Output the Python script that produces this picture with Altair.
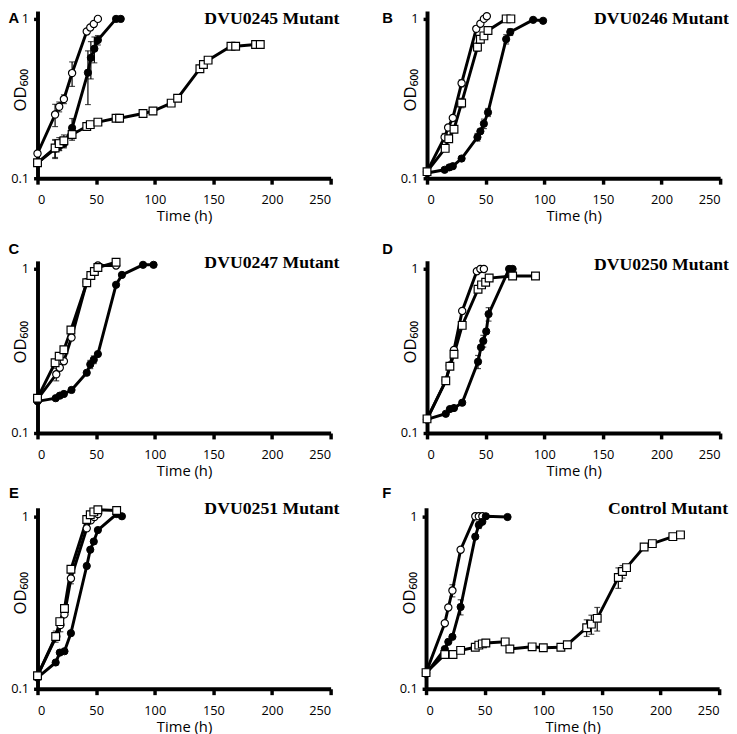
import altair as alt
import pandas as pd
import math

# ---------------- data ----------------
A_open_t = [0, 15, 18.5, 22.5, 29.5, 42, 45, 48, 51.5]
A_open_od = [0.143, 0.251, 0.281, 0.314, 0.457, 0.834, 0.884, 0.93, 1.0]
A_open_err = [0, 0.04, 0.02, 0.02, 0.08, 0.02, 0, 0, 0]
A_fill_t = [0, 15, 18.5, 22.5, 29.5, 43, 45.5, 48.5, 51.5, 67, 71]
A_fill_od = [0.125, 0.153, 0.159, 0.165, 0.207, 0.46, 0.57, 0.65, 0.736, 1.0, 1.0]
A_fill_err = [0, 0.02, 0.01, 0.01, 0.03, 0.17, 0.15, 0.12, 0.05, 0, 0]
A_sq_t = [0, 15, 18.5, 22.5, 29.5, 42, 45, 51.5, 67, 70, 90, 98.5, 114, 119.5,
          138.5, 141.5, 145.5, 165, 169, 186, 190]
A_sq_od = [0.125, 0.155, 0.165, 0.172, 0.188, 0.211, 0.217, 0.225, 0.238, 0.238,
           0.255, 0.264, 0.296, 0.318, 0.487, 0.518, 0.551, 0.673, 0.673, 0.69, 0.69]
A_sq_err = [0, 0.02, 0.015, 0.015, 0.015] + [0] * 16

B_open_t = [0, 15, 18, 22, 29.5, 42, 45.5, 48.5, 51]
B_open_od = [0.11, 0.181, 0.208, 0.239, 0.395, 0.866, 0.933, 1.0, 1.04]
B_open_err = [0, 0.01, 0, 0, 0.02, 0.03, 0, 0, 0]
B_fill_t = [0, 15, 19, 22, 29.5, 43, 45.5, 48.5, 52, 67.5, 71, 90.5, 99]
B_fill_od = [0.108, 0.113, 0.117, 0.119, 0.133, 0.181, 0.197, 0.22, 0.259, 0.746, 0.827, 0.986, 0.973]
B_fill_err = [0, 0, 0, 0, 0, 0.01, 0, 0.015, 0.015, 0.05, 0.04, 0, 0]
B_sq_t = [0, 15.5, 18.5, 23, 29.5, 43, 45.5, 48.5, 52, 67.5, 71.5]
B_sq_od = [0.11, 0.154, 0.177, 0.203, 0.297, 0.665, 0.746, 0.782, 0.846, 1.0, 1.0]
B_sq_err = [0, 0, 0, 0, 0.02, 0.04, 0.03, 0, 0, 0, 0]

C_open_t = [0, 16, 19, 22.5, 29, 42, 45.5, 48.5, 51.5, 67]
C_open_od = [0.161, 0.228, 0.25, 0.274, 0.382, 0.832, 0.912, 0.964, 1.05, 1.05]
C_open_err = [0, 0.02, 0, 0, 0, 0, 0, 0, 0, 0]
C_fill_t = [0, 15.5, 19, 22.5, 29, 42, 45, 48, 51.5, 67, 72, 90, 99]
C_fill_od = [0.156, 0.163, 0.169, 0.173, 0.183, 0.233, 0.262, 0.28, 0.303, 0.801, 0.92, 1.06, 1.06]
C_fill_err = [0, 0, 0, 0, 0, 0, 0.015, 0.015, 0, 0, 0, 0, 0]
C_sq_t = [0, 15, 18.5, 22.5, 28.5, 42, 45.5, 48.5, 51.5, 67]
C_sq_od = [0.163, 0.268, 0.294, 0.322, 0.425, 0.824, 0.912, 0.964, 1.02, 1.1]
C_sq_err = [0] * 10

D_open_t = [0, 16, 19.5, 23, 30, 42.5, 45.5, 48.5]
D_open_od = [0.121, 0.208, 0.258, 0.321, 0.555, 0.969, 1.0, 1.0]
D_open_err = [0] * 8
D_fill_t = [0, 16, 19.5, 23, 30, 43.5, 46, 48, 50.5, 52.5, 70, 73]
D_fill_od = [0.121, 0.131, 0.14, 0.142, 0.153, 0.272, 0.333, 0.364, 0.416, 0.531, 1.0, 1.0]
D_fill_err = [0, 0, 0, 0, 0, 0.025, 0, 0.03, 0, 0.05, 0, 0]
D_sq_t = [0, 16, 19.5, 23, 30, 43.5, 46.5, 50, 53, 73, 92.5]
D_sq_od = [0.122, 0.208, 0.255, 0.302, 0.453, 0.752, 0.8, 0.83, 0.88, 0.906, 0.906]
D_sq_err = [0] * 11

E_open_t = [0, 16, 19.5, 23, 28.5, 42, 45.5, 48.5, 51.5]
E_open_od = [0.119, 0.201, 0.234, 0.27, 0.436, 0.851, 0.948, 0.99, 1.03]
E_open_err = [0, 0, 0.02, 0, 0.03, 0, 0, 0, 0]
E_fill_t = [0, 15.5, 19, 23, 28.5, 42, 45, 48, 51.5, 67.5, 72]
E_fill_od = [0.116, 0.142, 0.162, 0.165, 0.21, 0.515, 0.64, 0.714, 0.832, 1.03, 1.0]
E_fill_err = [0] * 11
E_sq_t = [0, 15.5, 19, 23, 28.5, 42, 45, 48, 51.5, 67.5]
E_sq_od = [0.119, 0.201, 0.245, 0.292, 0.493, 0.957, 1.02, 1.06, 1.09, 1.08]
E_sq_err = [0, 0.015, 0, 0, 0, 0, 0, 0, 0, 0]

F_open_t = [0, 16, 19, 22.5, 29.5, 42, 45, 48]
F_open_od = [0.124, 0.24, 0.296, 0.371, 0.64, 1.0, 1.0, 1.0]
F_open_err = [0, 0, 0, 0.03, 0, 0, 0, 0]
F_fill_t = [0, 16, 19, 22.5, 29.5, 42, 45, 48, 51, 69.5]
F_fill_od = [0.122, 0.17, 0.187, 0.2, 0.298, 0.762, 0.889, 0.929, 1.0, 0.99]
F_fill_err = [0, 0, 0, 0, 0.03, 0, 0.04, 0, 0, 0]
F_sq_t = [0, 16, 23, 29.5, 42, 45, 48, 51, 67.5, 71.5, 90.5, 100, 115, 120.5,
          137, 141, 146, 164, 167.5, 171, 186, 193, 210.5, 217]
F_sq_od = [0.124, 0.158, 0.158, 0.167, 0.174, 0.179, 0.182, 0.184, 0.187, 0.17,
           0.175, 0.173, 0.174, 0.18, 0.226, 0.237, 0.256, 0.442, 0.478, 0.504,
           0.663, 0.694, 0.762, 0.78]
F_sq_err = [0] * 14 + [0.025, 0.03, 0.04, 0.06, 0.04] + [0] * 5

panel_titles = {"A": "DVU0245 Mutant", "B": "DVU0246 Mutant", "C": "DVU0247 Mutant",
                "D": "DVU0250 Mutant", "E": "DVU0251 Mutant", "F": "Control Mutant"}
x_ticks = [0, 50, 100, 150, 200, 250]
y_ticks = [0.1, 1]

series = {
    "A": [("open", A_open_t, A_open_od, A_open_err), ("fill", A_fill_t, A_fill_od, A_fill_err), ("sq", A_sq_t, A_sq_od, A_sq_err)],
    "B": [("open", B_open_t, B_open_od, B_open_err), ("fill", B_fill_t, B_fill_od, B_fill_err), ("sq", B_sq_t, B_sq_od, B_sq_err)],
    "C": [("open", C_open_t, C_open_od, C_open_err), ("fill", C_fill_t, C_fill_od, C_fill_err), ("sq", C_sq_t, C_sq_od, C_sq_err)],
    "D": [("open", D_open_t, D_open_od, D_open_err), ("fill", D_fill_t, D_fill_od, D_fill_err), ("sq", D_sq_t, D_sq_od, D_sq_err)],
    "E": [("open", E_open_t, E_open_od, E_open_err), ("fill", E_fill_t, E_fill_od, E_fill_err), ("sq", E_sq_t, E_sq_od, E_sq_err)],
    "F": [("open", F_open_t, F_open_od, F_open_err), ("fill", F_fill_t, F_fill_od, F_fill_err), ("sq", F_sq_t, F_sq_od, F_sq_err)],
}

rows = []
for p, lst in series.items():
    for name, ts, ods, errs in lst:
        for t, od, e in zip(ts, ods, errs):
            rows.append({"panel": p, "series": name, "t": t, "od": od, "err": e,
                         "lo": od - e, "hi": od + e})
df = pd.DataFrame(rows)

W = 298
row_h = {"A": 170, "B": 170, "C": 175, "D": 175, "E": 184, "F": 184}
letter_dy = {"A": -1, "B": -1, "C": -20, "D": -20, "E": -24, "F": -24}
title_dy = {"A": 0, "B": 0, "C": -6, "D": -4, "E": -7, "F": -7}
letter_dx = {"A": -24, "B": -40, "C": -24, "D": -40, "E": -24, "F": -40}
YMAX = 1.12


def panel(p):
    H = row_h[p]
    tick1 = H * math.log10(YMAX) / (math.log10(YMAX) + 1)
    d = df[df.panel == p]
    xs = alt.X("t:Q", scale=alt.Scale(domain=[0, 250], nice=False, zero=False),
               axis=alt.Axis(values=x_ticks, title="Time (h)", titleFontSize=15,
                             titlePadding=2, labelPadding=10))
    ys = alt.Y("od:Q", scale=alt.Scale(type="log", domain=[0.1, YMAX], nice=False),
               axis=alt.Axis(values=y_ticks, format="~g", title="OD₆₀₀", titleFontSize=17,
                             titleX=-8, titleY=H * 0.47, titleBaseline="bottom",
                             labelPadding=5, tickSize=4))
    base = alt.Chart(d)
    line = base.mark_line(color="black", strokeWidth=3).encode(
        x=xs, y=ys, detail="series:N", order="t:Q")
    eb = base.transform_filter("datum.err > 0")
    rule = eb.mark_rule(color="black", strokeWidth=1.2).encode(x="t:Q", y="lo:Q", y2="hi:Q")
    cap_lo = eb.mark_tick(color="black", orient="horizontal", size=6, thickness=1.2).encode(x="t:Q", y="lo:Q")
    cap_hi = eb.mark_tick(color="black", orient="horizontal", size=6, thickness=1.2).encode(x="t:Q", y="hi:Q")
    pt_open = base.transform_filter("datum.series == 'open'").mark_point(
        shape="circle", filled=True, fill="white", stroke="black", strokeWidth=1.2,
        size=54, opacity=1).encode(x="t:Q", y="od:Q")
    pt_fill = base.transform_filter("datum.series == 'fill'").mark_point(
        shape="circle", filled=True, fill="black", stroke="black", strokeWidth=1,
        size=54, opacity=1).encode(x="t:Q", y="od:Q")
    pt_sq = base.transform_filter("datum.series == 'sq'").mark_point(
        shape="square", filled=True, fill="white", stroke="black", strokeWidth=1.2,
        size=62, opacity=1).encode(x="t:Q", y="od:Q")
    tdf = pd.DataFrame({"title": [panel_titles[p]], "letter": [p]})
    title = alt.Chart(tdf).mark_text(font="Liberation Serif", fontWeight="bold", fontSize=18,
                                     align="right", baseline="middle", color="black").encode(
        x=alt.value(W + 9), y=alt.value(tick1 + title_dy[p]), text="title:N")
    letter = alt.Chart(tdf).mark_text(font="Liberation Sans", fontWeight="bold", fontSize=15,
                                      align="center", baseline="middle", color="black").encode(
        x=alt.value(letter_dx[p]), y=alt.value(tick1 + letter_dy[p]), text="letter:N")
    return alt.layer(line, rule, cap_lo, cap_hi, pt_open, pt_fill, pt_sq, title, letter).properties(
        width=W, height=H)


row1 = alt.hconcat(panel("A"), panel("B"), spacing=43)
row2 = alt.hconcat(panel("C"), panel("D"), spacing=43)
row3 = alt.hconcat(panel("E"), panel("F"), spacing=43)

chart = alt.vconcat(row1, alt.vconcat(row2, row3, spacing=7), spacing=19).properties(
    padding={"top": -5, "left": 0, "right": 0, "bottom": 0}
).configure_view(stroke=None).configure_axis(
    grid=False, domainColor="black", domainWidth=4, tickColor="black", tickWidth=3.5,
    tickSize=6, labelFont="Open Sans", labelFontSize=13, labelColor="black",
    titleFont="Open Sans", titleFontWeight="normal", titleColor="black"
).configure_concat(spacing=20)

chart.save("out.html", embed_options={"renderer": "svg", "actions": False})
